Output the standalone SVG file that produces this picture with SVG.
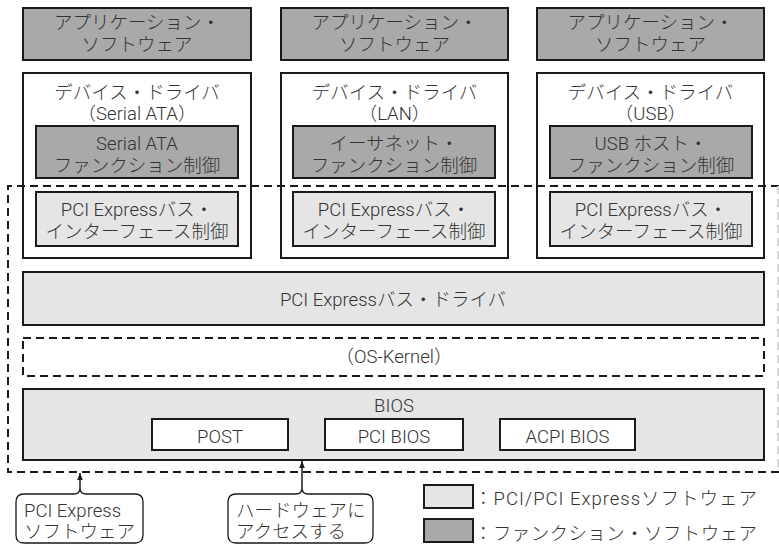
<svg xmlns="http://www.w3.org/2000/svg" width="779" height="544" viewBox="0 0 779 544">
<defs>
<style>
text{font-family:Roboto,"Noto Sans CJK JP",sans-serif;font-size:18.5px;font-weight:300;fill:#333333;text-anchor:middle}
.l{text-anchor:start}
.box{stroke:#1a1a1a;stroke-width:2}
.dark{fill:#a9a9a9}
.light{fill:#e5e5e5}
.white{fill:#ffffff}
.dash{fill:none;stroke:#1a1a1a;stroke-width:2;stroke-dasharray:8 5}
.faint{fill:none;stroke:#d8d8d8;stroke-width:2;stroke-dasharray:8 5}
.stem{fill:none;stroke:#1a1a1a;stroke-width:1.5}
.call{fill:#ffffff;stroke:#1a1a1a;stroke-width:1.3}
</style>
<marker id="ah" viewBox="0 0 10 10" refX="10" refY="5" markerWidth="8" markerHeight="7" markerUnits="userSpaceOnUse" orient="auto">
<path d="M0,1 L10,5 L0,9 z" fill="#1a1a1a"/>
</marker>
</defs>
<rect width="779" height="544" fill="#ffffff"/>

<g id="app1"><rect class="box dark" x="23" y="8" width="228" height="52"/><text x="137" y="29">アプリケーション・</text><text x="137" y="51">ソフトウェア</text></g>
<g id="app2"><rect class="box dark" x="281" y="8" width="227" height="52"/><text x="394.5" y="29">アプリケーション・</text><text x="394.5" y="51">ソフトウェア</text></g>
<g id="app3"><rect class="box dark" x="537" y="8" width="227" height="52"/><text x="650.5" y="29">アプリケーション・</text><text x="650.5" y="51">ソフトウェア</text></g>

<g id="drv1"><rect class="box white" x="23" y="73" width="228" height="185"/><text x="137" y="99">デバイス・ドライバ</text><text x="137" y="120">（Serial ATA）</text></g>
<g id="drv2"><rect class="box white" x="281" y="73" width="227" height="185"/><text x="394.5" y="99">デバイス・ドライバ</text><text x="394.5" y="120">（LAN）</text></g>
<g id="drv3"><rect class="box white" x="537" y="73" width="227" height="185"/><text x="650.5" y="99">デバイス・ドライバ</text><text x="650.5" y="120">（USB）</text></g>

<g id="func1"><rect class="box dark" x="36" y="126" width="202" height="52"/><text x="137" y="150">Serial ATA</text><text x="137" y="172">ファンクション制御</text></g>
<g id="func2"><rect class="box dark" x="293" y="126" width="202" height="52"/><text x="394" y="150">イーサネット・</text><text x="394" y="172">ファンクション制御</text></g>
<g id="func3"><rect class="box dark" x="550" y="126" width="202" height="52"/><text x="651" y="150">USB ホスト・</text><text x="651" y="172">ファンクション制御</text></g>

<g id="if1"><rect class="box light" x="36" y="192" width="202" height="54"/><text x="137" y="216">PCI Expressバス・</text><text x="137" y="238">インターフェース制御</text></g>
<g id="if2"><rect class="box light" x="293" y="192" width="202" height="54"/><text x="394" y="216">PCI Expressバス・</text><text x="394" y="238">インターフェース制御</text></g>
<g id="if3"><rect class="box light" x="550" y="192" width="202" height="54"/><text x="651" y="216">PCI Expressバス・</text><text x="651" y="238">インターフェース制御</text></g>

<g id="busdriver"><rect class="box light" x="23" y="272" width="741" height="53"/><text x="393" y="306">PCI Expressバス・ドライバ</text></g>
<g id="oskernel"><rect class="dash" x="23" y="338" width="741" height="38"/><text x="394" y="363">（OS-Kernel）</text></g>
<g id="bios"><rect class="box light" x="23" y="389" width="741" height="71"/><text x="394" y="412">BIOS</text></g>
<g id="post"><rect class="box white" x="152" y="419" width="136" height="31"/><text x="220" y="443">POST</text></g>
<g id="pcibios"><rect class="box white" x="325" y="419" width="138" height="31"/><text x="394" y="443">PCI BIOS</text></g>
<g id="acpibios"><rect class="box white" x="500" y="419" width="135" height="31"/><text x="567.5" y="443">ACPI BIOS</text></g>

<g id="pcie-region">
<path class="dash" d="M779 186 H8 V472 H779"/>
<line class="faint" x1="778" y1="186" x2="778" y2="472"/>
</g>

<g id="callout1"><path class="call" d="M24 494 H74 Q80 494 80 488 Q80 494 86 494 H135 Q143 494 143 502 V535 Q143 543 135 543 H24 Q16 543 16 535 V502 Q16 494 24 494 Z"/><text class="l" x="24" y="517">PCI Express</text><text class="l" x="24" y="538">ソフトウェア</text></g>
<g id="callout2"><path class="call" d="M236 494 H296 Q302 494 302 488 Q302 494 308 494 H365 Q373 494 373 502 V535 Q373 543 365 543 H236 Q228 543 228 535 V502 Q228 494 236 494 Z"/><text class="l" x="236" y="517">ハードウェアに</text><text class="l" x="236" y="538">アクセスする</text></g>

<g id="connectors">
<line class="stem" x1="80" y1="488" x2="80" y2="473" marker-end="url(#ah)"/>
<line class="stem" x1="302" y1="488" x2="302" y2="461" marker-end="url(#ah)"/>
</g>

<g id="legend">
<rect class="box light" x="424" y="485" width="49" height="23"/>
<text class="l" x="474" y="505" textLength="283" lengthAdjust="spacing">：PCI/PCI Expressソフトウェア</text>
<rect class="box dark" x="424" y="519" width="49" height="23"/>
<text class="l" x="474" y="540" textLength="283" lengthAdjust="spacing">：ファンクション・ソフトウェア</text>
</g>
</svg>
